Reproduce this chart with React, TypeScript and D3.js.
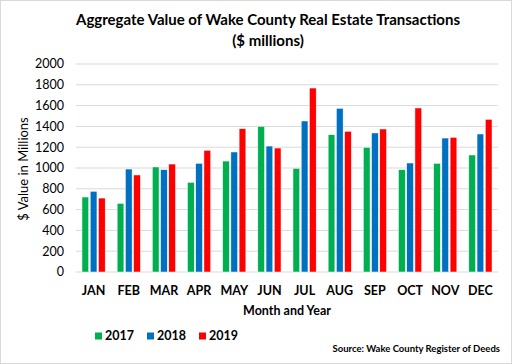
import React from "react";
import * as d3 from "d3";

const months = ["JAN", "FEB", "MAR", "APR", "MAY", "JUN", "JUL", "AUG", "SEP", "OCT", "NOV", "DEC"];
const years = ["2017", "2018", "2019"];
const values2017 = [721, 660, 1010, 862, 1067, 1401, 997, 1320, 1199, 984, 1045, 1125];
const values2018 = [776, 990, 984, 1045, 1154, 1211, 1452, 1574, 1337, 1048, 1288, 1327];
const values2019 = [711, 933, 1038, 1170, 1378, 1192, 1769, 1353, 1375, 1577, 1295, 1468];
const yTicks = [0, 200, 400, 600, 800, 1000, 1200, 1400, 1600, 1800, 2000];

const colors = ["#00B050", "#0070C0", "#FF0000"];
const font = "Lato, 'Open Sans', sans-serif";

const App = () => {
  const width = 512;
  const height = 364;
  const left = 76;
  const right = 498;
  const top = 64;
  const bottom = 272;

  const series = [values2017, values2018, values2019];

  const x = d3.scaleBand().domain(months).range([left, right]).paddingInner(0.34).paddingOuter(0.17);
  const xInner = d3.scaleBand().domain(years).range([0, x.bandwidth()]).paddingInner(0.18);
  const y = d3.scaleLinear().domain([0, 2000]).range([bottom, top]);

  return (
    <svg width={width} height={height} style={{ display: "block", position: "absolute", left: 0, top: 0 }}>
      <rect x={0.5} y={0.5} width={width - 1} height={height - 1} fill="#fff" stroke="#d9d9d9" />
      <text x={268} y={25} textAnchor="middle" fontFamily={font} fontWeight="bold" fontSize={15} fill="#000">
        Aggregate Value of Wake County Real Estate Transactions
      </text>
      <text x={268} y={46} textAnchor="middle" fontFamily={font} fontWeight="bold" fontSize={15} fill="#000">
        ($ millions)
      </text>

      {yTicks.map((t) => (
        <g key={t}>
          <line x1={left} x2={right} y1={y(t)} y2={y(t)} stroke="#d9d9d9" strokeWidth={1} />
          <text x={64} y={y(t)} dy="0.35em" textAnchor="end" fontFamily={font} fontSize={12.5} fill="#000">
            {t}
          </text>
        </g>
      ))}

      <text
        transform={`translate(23, 169) rotate(-90)`}
        textAnchor="middle"
        dy="0.35em"
        fontFamily={font}
        fontSize={13}
        fill="#000"
      >
        $ Value in Millions
      </text>

      {months.map((m, i) => (
        <g key={m} transform={`translate(${x(m)}, 0)`}>
          {series.map((s, j) => (
            <rect
              key={j}
              x={xInner(years[j])}
              y={y(s[i])}
              width={xInner.bandwidth()}
              height={bottom - y(s[i])}
              fill={colors[j]}
              stroke="#fff"
              strokeWidth={0.5}
            />
          ))}
          <text
            x={x.bandwidth() / 2}
            y={291}
            dy="0.35em"
            textAnchor="middle"
            fontFamily={font}
            fontWeight="bold"
            fontSize={12.5}
            fill="#000"
          >
            {m}
          </text>
        </g>
      ))}

      <text x={287} y={311} dy="0.35em" textAnchor="middle" fontFamily={font} fontWeight="bold" fontSize={12.5} fill="#000">
        Month and Year
      </text>

      {years.map((yr, j) => (
        <g key={yr} transform={`translate(${95 + j * 52}, 336)`}>
          <rect x={0} y={-3.5} width={7} height={7} fill={colors[j]} />
          <text x={10} y={0} dy="0.35em" fontFamily={font} fontWeight="bold" fontSize={12.5} fill="#000">
            {yr}
          </text>
        </g>
      ))}

      <text x={500} y={349} dy="0.35em" textAnchor="end" fontFamily={font} fontWeight="bold" fontSize={9.5} fill="#000">
        Source: Wake County Register of Deeds
      </text>
    </svg>
  );
};

export default App;
